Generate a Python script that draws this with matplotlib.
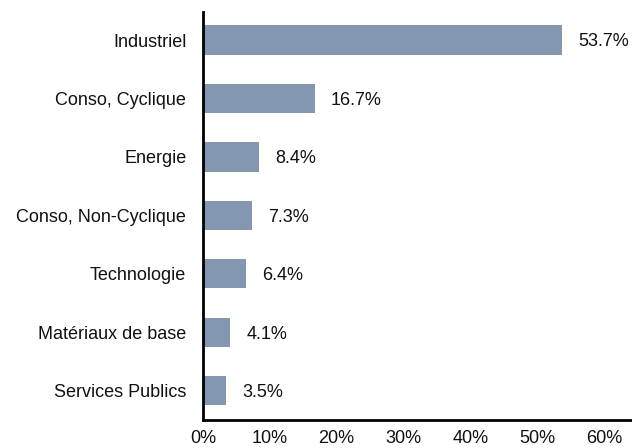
import numpy as np
import matplotlib
matplotlib.use("Agg")
import matplotlib.pyplot as plt

plt.rcParams['font.family'] = ['Liberation Sans', 'DejaVu Sans']

secteurs = ["Services Publics", "Matériaux de base", "Technologie",
            "Conso, Non-Cyclique", "Energie", "Conso, Cyclique", "Industriel"]
poids = [3.5, 4.1, 6.4, 7.3, 8.4, 16.7, 53.7]
xticks = [0, 10, 20, 30, 40, 50, 60]

fig = plt.figure(figsize=(6.32, 4.48), dpi=100)
ax = fig.add_axes([203 / 632, 1 - 420 / 448, 1 - 203 / 632, 408 / 448])

y = np.arange(len(secteurs))
ax.barh(y, poids, height=0.5, color="#8497b0")

for yi, v in zip(y, poids):
    ax.text(v + 2.4, yi - 0.03, f"{v:.1f}%", va="center", ha="left", fontsize=13, color="#111111")

ax.set_yticks(y)
ax.set_yticklabels(secteurs)
ax.set_xticks(xticks)
ax.set_xticklabels([f"{t}%" for t in xticks])
ax.set_xlim(0, 64.2)
ax.set_ylim(-0.5, 6.48)
ax.tick_params(axis="y", length=0, pad=12, labelsize=13, labelcolor="#111111")
ax.tick_params(axis="x", length=0, pad=7, labelsize=13, labelcolor="#111111")

for s in ["top", "right"]:
    ax.spines[s].set_visible(False)
ax.spines["left"].set_linewidth(2)
ax.spines["bottom"].set_linewidth(2)

fig.savefig("out.png", dpi=100)
